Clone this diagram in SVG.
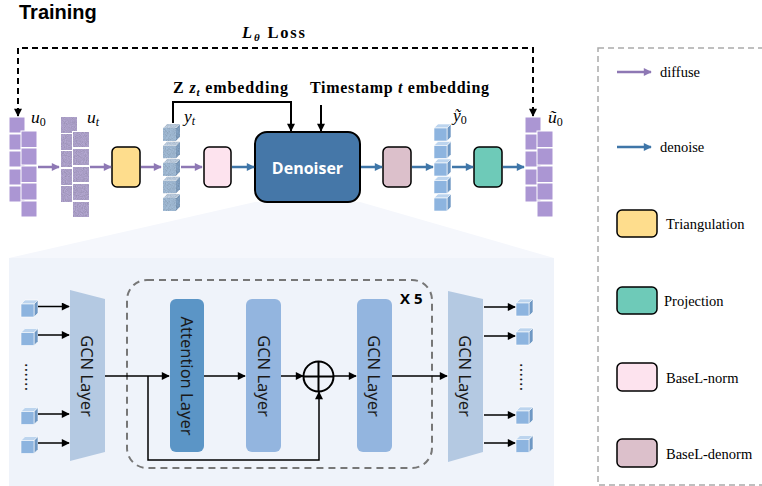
<svg xmlns="http://www.w3.org/2000/svg" xmlns:xlink="http://www.w3.org/1999/xlink" width="762" height="486" viewBox="0 0 762 486">
<defs>
<style>
.serifb{font-family:"Liberation Serif","Times New Roman",serif;font-weight:bold;fill:#000}
.math{font-family:"Liberation Serif","Times New Roman",serif;font-style:italic;fill:#000;font-size:17.5px}
.sub{font-style:normal;font-size:12px}
.subi{font-style:italic;font-size:12px}
.leg{font-family:"Liberation Serif","Times New Roman",serif;font-size:14.5px;fill:#000}
.sans{font-family:"Noto Sans","Open Sans",sans-serif;fill:#1a1a1a}
.box{stroke:#000;stroke-width:1.5}
.pa{stroke:#8e78b4;stroke-width:2.5;fill:none}
.ba{stroke:#3f76a8;stroke-width:2.5;fill:none}
.ka{stroke:#000;stroke-width:1.5;fill:none}
.kb{stroke:#000;stroke-width:2;fill:none}
.sqP{fill:#ab96d3;stroke:#fff;stroke-width:1}
</style>
<marker id="mP" viewBox="0 0 10 10" refX="9" refY="5" markerUnits="userSpaceOnUse" markerWidth="9" markerHeight="8" orient="auto"><path d="M0,0 L10,5 L0,10 z" fill="#8e78b4"/></marker>
<marker id="mB" viewBox="0 0 10 10" refX="9" refY="5" markerUnits="userSpaceOnUse" markerWidth="9" markerHeight="8" orient="auto"><path d="M0,0 L10,5 L0,10 z" fill="#3f76a8"/></marker>
<marker id="mK" viewBox="0 0 10 10" refX="9" refY="5" markerUnits="userSpaceOnUse" markerWidth="9" markerHeight="8" orient="auto"><path d="M0,0 L10,5 L0,10 z" fill="#000"/></marker>
<filter id="noise" x="0" y="0" width="100%" height="100%">
<feTurbulence type="fractalNoise" baseFrequency="1.1" numOctaves="2" seed="4" result="t"/>
<feColorMatrix in="t" type="matrix" values="0.5 0 0 0 0.62  0.5 0 0 0 0.62  0.5 0 0 0 0.62  0 0 0 0 1" result="g"/>
<feBlend in="SourceGraphic" in2="g" mode="multiply" result="b"/>
<feComposite in="b" in2="SourceGraphic" operator="in"/>
</filter>
<g id="cube">
<polygon points="0,4 4,0 17,0 13,4" fill="#bcd4ee" stroke="#fff" stroke-width="0.6"/>
<polygon points="13,4 17,0 17,13 13,17" fill="#6f98c4" stroke="#fff" stroke-width="0.6"/>
<rect x="0" y="4" width="13" height="13" fill="#8db4df" stroke="#fff" stroke-width="0.6"/>
</g>
<g id="ncube" filter="url(#noise)">
<polygon points="0,4 4,0 17,0 13,4" fill="#c2d3e6"/>
<polygon points="13,4 17,0 17,13 13,17" fill="#86a5c6"/>
<rect x="0" y="4" width="13" height="13" fill="#a5bfda"/>
</g>
</defs>

<rect width="762" height="486" fill="#fff"/>

<!-- lower panel background -->
<g id="panel">
<polygon points="255,202 360,202 554,258 9,258" fill="#f5f7fc"/>
<rect x="9" y="258" width="545" height="228" fill="#eff3fa"/>
<rect x="127" y="280" width="305" height="188" rx="20" fill="none" stroke="#777" stroke-width="2" stroke-dasharray="7 5"/>
</g>

<text x="19" y="18.5" font-family="Liberation Sans,Arial,sans-serif" font-weight="bold" font-size="20" fill="#000">Training</text>

<!-- legend -->
<g id="legend">
<rect x="598" y="48" width="180" height="437" fill="none" stroke="#aaa" stroke-width="1.5" stroke-dasharray="6 4"/>
<line x1="617" y1="72" x2="651" y2="72" class="pa" marker-end="url(#mP)"/>
<text x="660" y="77" class="leg">diffuse</text>
<line x1="617" y1="147" x2="651" y2="147" class="ba" marker-end="url(#mB)"/>
<text x="660" y="152" class="leg">denoise</text>
<rect x="617" y="210" width="40" height="27" rx="5" fill="#fedd8d" class="box"/>
<text x="666" y="229" class="leg">Triangulation</text>
<rect x="617" y="287" width="40" height="27" rx="5" fill="#6ecab8" class="box"/>
<text x="664" y="306" class="leg">Projection</text>
<rect x="617" y="363" width="40" height="28" rx="5" fill="#fde3ee" class="box"/>
<text x="666" y="383" class="leg">BaseL-norm</text>
<rect x="617" y="439" width="40" height="28" rx="5" fill="#dcc0cb" class="box"/>
<text x="666" y="459" class="leg">BaseL-denorm</text>
</g>

<!-- u0 -->
<g id="u0">
<rect class="sqP" x="9" y="117" width="16" height="16"/>
<rect class="sqP" x="9" y="134" width="16" height="16"/>
<rect class="sqP" x="9" y="151" width="16" height="16"/>
<rect class="sqP" x="9" y="169" width="16" height="16"/>
<rect class="sqP" x="9" y="186" width="16" height="16"/>
<rect class="sqP" x="21" y="131" width="16" height="16.5"/>
<rect class="sqP" x="21" y="148" width="16" height="17"/>
<rect class="sqP" x="21" y="166" width="16" height="16.5"/>
<rect class="sqP" x="21" y="183" width="16" height="17"/>
<rect class="sqP" x="21" y="201" width="16" height="16"/>
<text x="31" y="123" class="math">u<tspan class="sub" dy="3">0</tspan></text>
</g>

<!-- ut -->
<g id="ut">
<g filter="url(#noise)">
<rect fill="#b4a8d2" x="61" y="117" width="16" height="16"/>
<rect fill="#b4a8d2" x="61" y="134" width="16" height="16"/>
<rect fill="#b4a8d2" x="61" y="151" width="16" height="16"/>
<rect fill="#b4a8d2" x="61" y="169" width="16" height="16"/>
<rect fill="#b4a8d2" x="61" y="186" width="16" height="16"/>
</g>
<rect fill="#fff" x="72" y="131" width="17" height="86"/>
<g filter="url(#noise)">
<rect fill="#b4a8d2" x="73" y="132" width="16" height="15"/>
<rect fill="#b4a8d2" x="73" y="149" width="16" height="16"/>
<rect fill="#b4a8d2" x="73" y="167" width="16" height="15"/>
<rect fill="#b4a8d2" x="73" y="184" width="16" height="16"/>
<rect fill="#b4a8d2" x="73" y="202" width="16" height="15"/>
</g>
<text x="87" y="123" class="math">u<tspan class="subi" dy="3">t</tspan></text>
</g>

<g id="triangulation"><rect x="112" y="147" width="28" height="40" rx="5" fill="#fedd8d" class="box"/></g>

<g id="yt">
<use xlink:href="#ncube" x="163" y="124"/>
<use xlink:href="#ncube" x="163" y="141.5"/>
<use xlink:href="#ncube" x="163" y="159"/>
<use xlink:href="#ncube" x="163" y="176.5"/>
<use xlink:href="#ncube" x="163" y="194"/>
<text x="184" y="122" class="math">y<tspan class="subi" dy="3">t</tspan></text>
</g>

<g id="basel-norm"><rect x="204" y="147" width="27" height="40" rx="5" fill="#fde3ee" class="box"/></g>

<g id="denoiser">
<rect x="255" y="132" width="105" height="70" rx="12" fill="#4577a8" stroke="#000" stroke-width="2"/>
<text x="307.5" y="174" text-anchor="middle" font-family="Open Sans,Liberation Sans,sans-serif" font-weight="bold" font-size="16" fill="#fff">Denoiser</text>
</g>

<g id="basel-denorm"><rect x="383" y="147" width="28" height="40" rx="5" fill="#dcc0cb" class="box"/></g>

<g id="y0">
<use xlink:href="#cube" x="434" y="124"/>
<use xlink:href="#cube" x="434" y="141.5"/>
<use xlink:href="#cube" x="434" y="159"/>
<use xlink:href="#cube" x="434" y="176.5"/>
<use xlink:href="#cube" x="434" y="194"/>
<text x="453" y="121" class="math">ỹ<tspan class="sub" dy="3">0</tspan></text>
</g>

<g id="projection"><rect x="474" y="147" width="28" height="40" rx="5" fill="#6ecab8" class="box"/></g>

<g id="u0hat">
<rect class="sqP" x="525" y="117" width="16" height="16"/>
<rect class="sqP" x="525" y="134" width="16" height="16"/>
<rect class="sqP" x="525" y="151" width="16" height="16"/>
<rect class="sqP" x="525" y="169" width="16" height="16"/>
<rect class="sqP" x="525" y="186" width="16" height="16"/>
<rect class="sqP" x="537" y="131" width="16" height="16.5"/>
<rect class="sqP" x="537" y="148" width="16" height="17"/>
<rect class="sqP" x="537" y="166" width="16" height="16.5"/>
<rect class="sqP" x="537" y="183" width="16" height="17"/>
<rect class="sqP" x="537" y="201" width="16" height="16"/>
<text x="548" y="123" class="math">ũ<tspan class="sub" dy="3">0</tspan></text>
</g>

<!-- labels -->
<text x="242" y="38" class="serifb" font-size="16.5" textLength="63" lengthAdjust="spacing"><tspan font-style="italic">L</tspan><tspan font-style="italic" font-size="11" dy="3">θ</tspan><tspan dy="-3"> Loss</tspan></text>
<text x="173" y="93" class="serifb" font-size="16" textLength="115" lengthAdjust="spacing">Z <tspan font-style="italic">z</tspan><tspan font-style="italic" font-size="11" dy="3">t</tspan><tspan dy="-3"> embedding</tspan></text>
<text x="310" y="93" class="serifb" font-size="16" textLength="179" lengthAdjust="spacing">Timestamp <tspan font-style="italic">t</tspan> embedding</text>

<!-- lower panel nodes -->
<g id="inputs">
<use xlink:href="#cube" x="21" y="300"/>
<use xlink:href="#cube" x="21" y="328.5"/>
<use xlink:href="#cube" x="21" y="407.5"/>
<use xlink:href="#cube" x="21" y="436.5"/>
<text transform="translate(25,363) rotate(90)" class="sans" font-size="16" textLength="28">......</text>
</g>
<g id="gcn-in">
<polygon points="70,290 105,299 105,452 70,461" fill="#b4c9e2"/>
<text transform="translate(81,376) rotate(90)" text-anchor="middle" class="sans" font-size="16.5">GCN Layer</text>
</g>
<g id="attention">
<rect x="170" y="299" width="34" height="153" rx="6" fill="#5b95c6"/>
<text transform="translate(181,376) rotate(90)" text-anchor="middle" class="sans" font-size="16.5">Attention Layer</text>
</g>
<g id="gcn2">
<rect x="246" y="299" width="35" height="153" rx="6" fill="#93b5df"/>
<text transform="translate(258,376) rotate(90)" text-anchor="middle" class="sans" font-size="16.5">GCN Layer</text>
</g>
<g id="add">
<circle cx="318.5" cy="376.5" r="15" fill="none" stroke="#000" stroke-width="2"/>
<line x1="303.5" y1="376.5" x2="333.5" y2="376.5" stroke="#000" stroke-width="2"/>
<line x1="318.5" y1="361.5" x2="318.5" y2="391.5" stroke="#000" stroke-width="2"/>
</g>
<g id="gcn3">
<rect x="357" y="299" width="35" height="153" rx="6" fill="#93b5df"/>
<text transform="translate(368,376) rotate(90)" text-anchor="middle" class="sans" font-size="16.5">GCN Layer</text>
</g>
<text x="400" y="304" font-family="Open Sans,Liberation Sans,sans-serif" font-weight="bold" font-size="15" fill="#000">X 5</text>
<g id="gcn-out">
<polygon points="448,291 483,299 483,452 448,462" fill="#b4c9e2"/>
<text transform="translate(459,376) rotate(90)" text-anchor="middle" class="sans" font-size="16.5">GCN Layer</text>
</g>
<g id="outputs">
<use xlink:href="#cube" x="516" y="299"/>
<use xlink:href="#cube" x="516" y="328"/>
<use xlink:href="#cube" x="516" y="407"/>
<use xlink:href="#cube" x="516" y="435.5"/>
<text transform="translate(520,363) rotate(90)" class="sans" font-size="16" textLength="28">......</text>
</g>

<!-- connectors -->
<g id="connectors">
<path d="M18,114 V48 H533 V114" class="kb" stroke-dasharray="6 4"/>
<path d="M18,108 V116" class="kb" marker-end="url(#mK)"/>
<path d="M533,108 V116" class="kb" marker-end="url(#mK)"/>
<line x1="38" y1="167" x2="59" y2="167" class="pa" marker-end="url(#mP)"/>
<line x1="90" y1="167" x2="111" y2="167" class="pa" marker-end="url(#mP)"/>
<line x1="141" y1="167" x2="161" y2="167" class="pa" marker-end="url(#mP)"/>
<line x1="181" y1="167" x2="202" y2="167" class="pa" marker-end="url(#mP)"/>
<line x1="232" y1="167" x2="254" y2="167" class="ba" marker-end="url(#mB)"/>
<line x1="361" y1="167" x2="382" y2="167" class="ba" marker-end="url(#mB)"/>
<line x1="412" y1="167" x2="433" y2="167" class="ba" marker-end="url(#mB)"/>
<line x1="452" y1="167" x2="473" y2="167" class="ba" marker-end="url(#mB)"/>
<line x1="503" y1="167" x2="524" y2="167" class="ba" marker-end="url(#mB)"/>
<path d="M173,123 V102 H291 V131" class="kb" marker-end="url(#mK)"/>
<path d="M321,105 V131" class="kb" marker-end="url(#mK)"/>

<line x1="38" y1="306.5" x2="69" y2="306.5" class="ka" marker-end="url(#mK)"/>
<line x1="38" y1="335" x2="69" y2="335" class="ka" marker-end="url(#mK)"/>
<line x1="38" y1="414" x2="69" y2="414" class="ka" marker-end="url(#mK)"/>
<line x1="38" y1="443" x2="69" y2="443" class="ka" marker-end="url(#mK)"/>
<line x1="105" y1="376" x2="169" y2="376" class="ka" marker-end="url(#mK)"/>
<path d="M148,376 V460 H319 V392" class="ka" marker-end="url(#mK)"/>
<line x1="204" y1="376" x2="245" y2="376" class="ka" marker-end="url(#mK)"/>
<line x1="281" y1="376" x2="303" y2="376" class="ka" marker-end="url(#mK)"/>
<line x1="334" y1="376" x2="356" y2="376" class="ka" marker-end="url(#mK)"/>
<line x1="392" y1="376" x2="447" y2="376" class="ka" marker-end="url(#mK)"/>
<line x1="484" y1="307" x2="515" y2="307" class="ka" marker-end="url(#mK)"/>
<line x1="484" y1="336" x2="515" y2="336" class="ka" marker-end="url(#mK)"/>
<line x1="484" y1="415" x2="515" y2="415" class="ka" marker-end="url(#mK)"/>
<line x1="484" y1="443" x2="515" y2="443" class="ka" marker-end="url(#mK)"/>
</g>
</svg>
